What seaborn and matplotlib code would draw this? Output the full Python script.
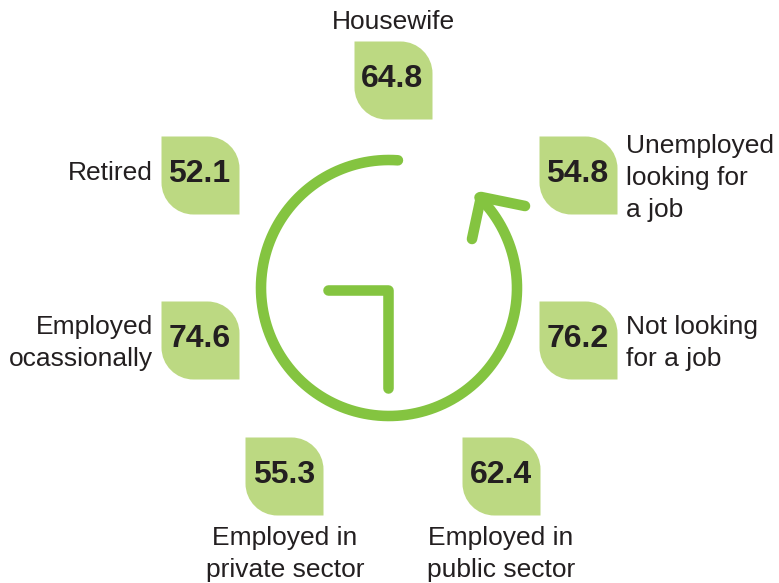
import numpy as np
import pandas as pd
import matplotlib
matplotlib.use("Agg")
import matplotlib.pyplot as plt
from matplotlib.path import Path
import seaborn as sns

# Chart values
categories = [
    "Housewife",
    "Unemployed\nlooking for\na job",
    "Not looking\nfor a job",
    "Employed in\npublic sector",
    "Employed in\nprivate sector",
    "Employed\nocassionally",
    "Retired",
]
values = [64.8, 54.8, 76.2, 62.4, 55.3, 74.6, 52.1]

# Layout, in pixels from the top-left corner
tile_cx = [393, 578, 578, 501, 284.5, 200, 200]
tile_cy = [80, 175, 340, 476, 476, 340, 175]
label_x = [393, 626, 626, 501, 285, 153, 153]
label_y = [22, 178, 343, 554, 554, 343, 173]
label_ha = ["center", "left", "left", "center", "center", "right", "right"]
multi_align = ["center", "left", "left", "center", "center", "right", "right"]

TILE = "#bcd982"
STROKE = "#84c440"
INK = "#231f20"
W, H = 779, 583
DPI = 100

sns.set_theme(style="white")
plt.rcParams["font.family"] = ["Liberation Sans", "DejaVu Sans"]


def leaf_marker(r=0.41):
    """Unit square with the top-right and bottom-left corners rounded."""
    c = 0.5
    k = c - r
    b = r * 0.5523
    verts = [
        (-c, c), (k, c),
        (k + b, c), (c, k + b), (c, k),
        (c, -c), (-k, -c),
        (-k - b, -c), (-c, -k - b), (-c, -k),
        (-c, c), (-c, c),
    ]
    codes = [
        Path.MOVETO, Path.LINETO,
        Path.CURVE4, Path.CURVE4, Path.CURVE4,
        Path.LINETO, Path.LINETO,
        Path.CURVE4, Path.CURVE4, Path.CURVE4,
        Path.LINETO, Path.CLOSEPOLY,
    ]
    return Path(verts, codes)


df = pd.DataFrame({"category": categories, "value": values,
                   "x": tile_cx, "y": tile_cy})

fig = plt.figure(figsize=(W / DPI, H / DPI), dpi=DPI, facecolor="white")
ax = fig.add_axes([0, 0, 1, 1])
ax.set_xlim(0, W)
ax.set_ylim(H, 0)
ax.axis("off")

# Value tiles
side_pt = 78 * 72 / DPI
sns.scatterplot(data=df, x="x", y="y", marker=leaf_marker(), s=side_pt ** 2,
                color=TILE, linewidth=0, legend=False, ax=ax, zorder=2)

for row in df.itertuples():
    ax.text(row.x - 0.5, row.y - 1, f"{row.value:.1f}", ha="center", va="center",
            fontsize=23, fontweight="bold", color=INK, zorder=3)

for name, x, y, ha, ma in zip(categories, label_x, label_y, label_ha, multi_align):
    ax.text(x, y, name, ha=ha, ma=ma, va="center", fontsize=19, color=INK,
            linespacing=1.42, zorder=3)

# Circular arrow around the clock hands
cx, cy, radius = 389, 288, 128
theta = np.radians(np.linspace(86, 405, 300))
line_kw = dict(color=STROKE, lw=7.6, solid_capstyle="round",
               solid_joinstyle="round", zorder=1)
ax.plot(cx + radius * np.cos(theta), cy - radius * np.sin(theta), **line_kw)
ax.plot([472, 481, 525], [239, 197, 206], **line_kw)

# Clock hands
ax.plot([328, 388, 388], [290, 290, 388], **line_kw)

fig.savefig("out.png", dpi=DPI, facecolor="white")
